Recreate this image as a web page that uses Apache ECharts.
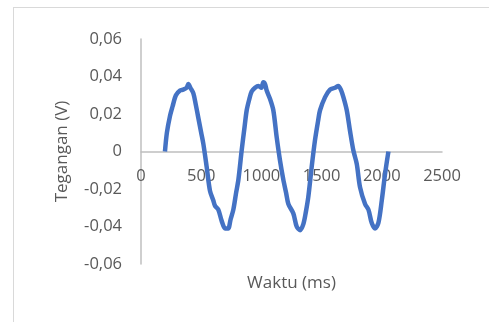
<!DOCTYPE html>
<html>
<head>
<meta charset="utf-8">
<script src="https://cdn.jsdelivr.net/npm/echarts@6/dist/echarts.min.js"></script>
<style>
  html, body { margin: 0; padding: 0; background: #fff; }
  #wrap { position: relative; width: 489px; height: 322px; overflow: hidden; }
  #frame { position: absolute; left: 13px; top: 7px; width: 600px; height: 400px; border: 1px solid #d9d9d9; }
  #chart { position: absolute; left: 0; top: 0; width: 489px; height: 322px; }
</style>
</head>
<body>
<div id="wrap">
  <div id="frame"></div>
  <div id="chart"></div>
</div>
<script>
// Time (ms) and voltage (V)
var timeMs = [199, 215, 241, 262, 290, 324, 350, 379, 393, 410, 435, 455, 476, 500, 518, 545, 573, 600, 615, 642, 670, 698, 712, 725, 745, 767, 790, 809, 836, 860, 878, 900, 919, 947, 975, 1000, 1016, 1030, 1044, 1072, 1099, 1127, 1155, 1182, 1205, 1224, 1265, 1293, 1321, 1349, 1370, 1390, 1418, 1445, 1470, 1487, 1529, 1570, 1612, 1639, 1660, 1681, 1709, 1736, 1764, 1792, 1819, 1861, 1889, 1916, 1944, 1972, 2000, 2027, 2055];
var volts  = [0, 0.010, 0.019, 0.024, 0.030, 0.0325, 0.033, 0.034, 0.036, 0.034, 0.031, 0.025, 0.018, 0.010, 0.004, -0.008, -0.021, -0.026, -0.029, -0.031, -0.037, -0.041, -0.041, -0.041, -0.036, -0.031, -0.022, -0.015, 0.0005, 0.013, 0.022, 0.028, 0.032, 0.034, 0.035, 0.034, 0.037, 0.036, 0.0325, 0.028, 0.022, 0.0076, -0.005, -0.015, -0.022, -0.028, -0.033, -0.040, -0.042, -0.0386, -0.032, -0.024, -0.008, 0.006, 0.016, 0.022, 0.029, 0.033, 0.034, 0.035, 0.033, 0.029, 0.022, 0.011, 0.0005, -0.0066, -0.019, -0.028, -0.031, -0.038, -0.041, -0.038, -0.026, -0.012, 0];
var xTicks = { min: 0, max: 2500, step: 500 };
var yTicks = { min: -0.06, max: 0.06, step: 0.02 };

var points = timeMs.map(function (t, i) { return [t, volts[i]]; });
var font = '"Open Sans", sans-serif';
var chart = echarts.init(document.getElementById('chart'), null, { renderer: 'canvas' });
chart.setOption({
  backgroundColor: 'transparent',
  animation: false,
  grid: { left: 141, top: 39, right: 47, bottom: 58, containLabel: false, outerBoundsMode: 'none' },
  xAxis: {
    type: 'value',
    min: xTicks.min, max: xTicks.max, interval: xTicks.step,
    offset: -112.5,
    name: 'Waktu (ms)', nameLocation: 'middle', nameGap: 123,
    nameTextStyle: { color: '#595959', fontSize: 17, fontFamily: font },
    axisLine: { onZero: false, lineStyle: { color: '#bfbfbf', width: 1.5 } },
    axisTick: { show: false },
    splitLine: { show: false },
    axisLabel: { color: '#595959', fontSize: 16.5, fontFamily: font, margin: 16,
      formatter: function (v) { return String(v); } }
  },
  yAxis: {
    type: 'value',
    min: yTicks.min, max: yTicks.max, interval: yTicks.step,
    name: 'Tegangan (V)', nameLocation: 'middle', nameGap: 70,
    nameTextStyle: { color: '#595959', fontSize: 17, fontFamily: font },
    axisLine: { show: true, onZero: false, lineStyle: { color: '#bfbfbf', width: 1.5 } },
    axisTick: { show: false },
    splitLine: { show: false },
    axisLabel: {
      color: '#595959', fontSize: 16.5, fontFamily: font, margin: 19,
      formatter: function (v) {
        if (Math.abs(v) < 1e-9) return '0';
        return v.toFixed(2).replace('.', ',');
      }
    }
  },
  series: [{
    type: 'line',
    data: points,
    showSymbol: false,
    smooth: 0.3,
    lineStyle: { color: '#4472C4', width: 4.5 },
    itemStyle: { color: '#4472C4' }
  }]
});
</script>
</body>
</html>
